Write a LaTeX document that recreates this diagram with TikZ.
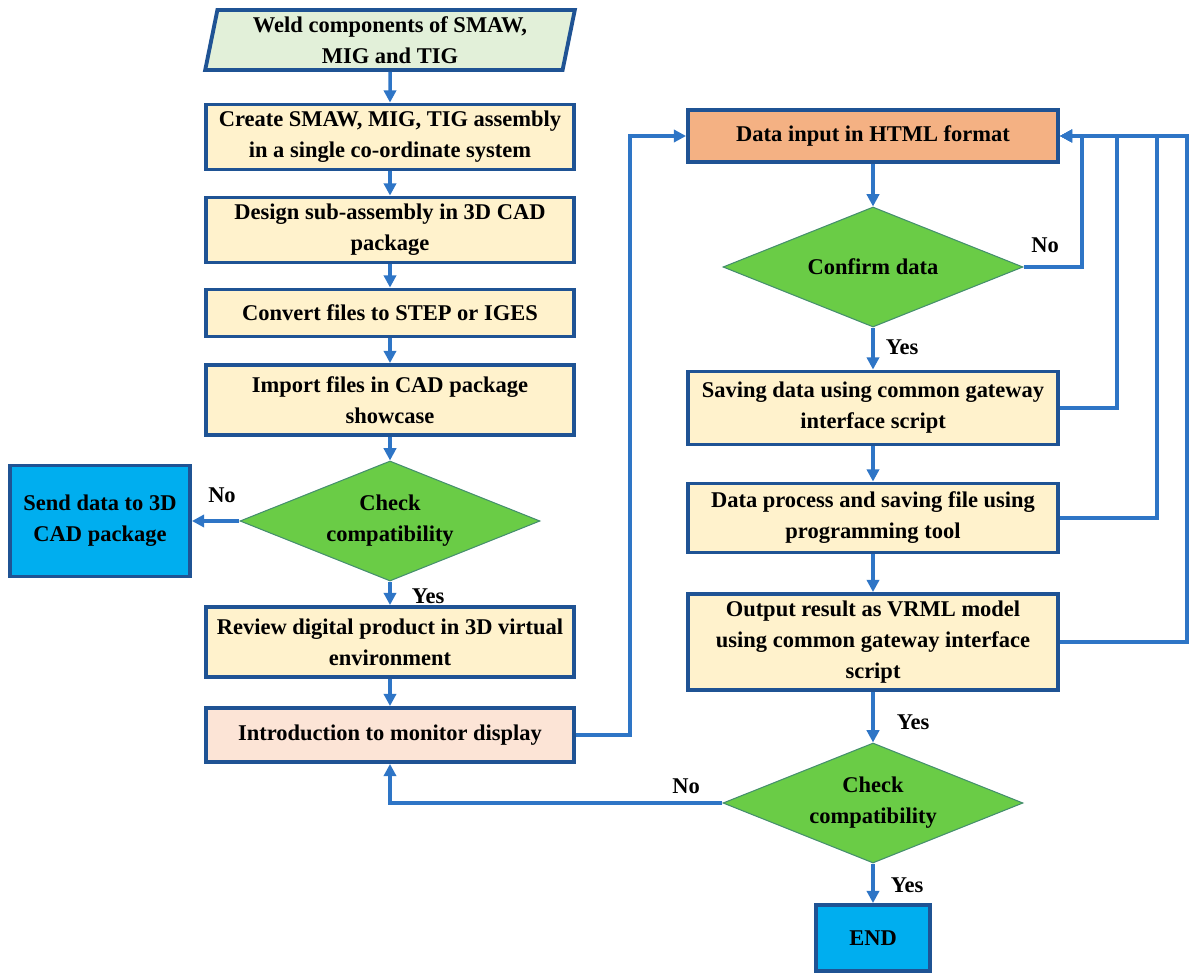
\documentclass[tikz,border=0pt]{standalone}
\usepackage{fontspec}
\setmainfont{Liberation Serif}
\usetikzlibrary{arrows.meta,calc,positioning,shapes.geometric}
\definecolor{FlowBlue}{RGB}{46,117,198}
\definecolor{EdgeBlue}{RGB}{31,83,148}
\definecolor{CreamFill}{RGB}{255,242,204}
\definecolor{MintFill}{RGB}{226,240,217}
\definecolor{LeafGreen}{RGB}{106,204,70}
\definecolor{SkyFill}{RGB}{0,174,239}
\definecolor{PeachFill}{RGB}{244,177,131}
\definecolor{BlushFill}{RGB}{252,228,214}

\begin{document}
\begin{tikzpicture}[font=\bfseries\fontsize{12.8}{17.6}\selectfont,
 stepbox/.style={rectangle,draw=EdgeBlue,line width=2.2pt,fill=CreamFill,align=center,inner sep=2pt,minimum width=7.36cm},
 decide/.style={diamond,draw=EdgeBlue!50!LeafGreen,line width=.6pt,fill=LeafGreen,align=center,aspect=2.5,inner sep=0pt,minimum width=6cm,minimum height=2.4cm},
 flow/.style={FlowBlue,line width=2pt,-{Triangle[length=7pt,width=7pt]}},
 tag/.style={inner sep=0pt}]
\useasboundingbox (0,0) rectangle (23.78,-19.46);
% left column
\node[trapezium,trapezium left angle=79,trapezium right angle=101,trapezium stretches=true,draw=EdgeBlue,line width=2.2pt,fill=MintFill,align=center,minimum width=7.4cm,minimum height=1.2cm,inner sep=1pt] (weld) at (7.8,-.8){Weld components of SMAW,\\ MIG and TIG};
\node[stepbox,minimum height=1.3cm] (create) at (7.8,-2.74){Create SMAW, MIG, TIG assembly\\ in a single co-ordinate system};
\node[stepbox,minimum height=1.3cm] (design) at (7.8,-4.6){Design sub-assembly in 3D CAD\\ package};
\node[stepbox,minimum height=.94cm] (convert) at (7.8,-6.26){Convert files to STEP or IGES};
\node[stepbox,minimum height=1.4cm] (import) at (7.8,-8.0){Import files in CAD package\\ showcase};
\node[decide] (checkA) at (7.8,-10.42){Check\\ compatibility};
\node[stepbox,minimum height=1.4cm] (review) at (7.8,-12.84){Review digital product in 3D virtual\\ environment};
\node[stepbox,fill=BlushFill,minimum height=1.08cm] (monitor) at (7.8,-14.7){Introduction to monitor display};
\node[stepbox,fill=SkyFill,minimum width=3.6cm,minimum height=2.22cm] (send) at (2,-10.42){Send data to 3D\\ CAD package};
% right column
\node[stepbox,fill=PeachFill,minimum width=7.4cm,minimum height=1.04cm] (htmlin) at (17.46,-2.72){Data input in HTML format};
\node[decide] (confirm) at (17.46,-5.34){Confirm data};
\node[stepbox,minimum width=7.4cm,minimum height=1.46cm] (saving) at (17.46,-8.16){Saving data using common gateway\\ interface script};
\node[stepbox,minimum width=7.4cm,minimum height=1.38cm] (process) at (17.46,-10.36){Data process and saving file using\\ programming tool};
\node[stepbox,minimum width=7.4cm,minimum height=1.92cm] (output) at (17.46,-12.84){Output result as VRML model\\ using common gateway interface\\ script};
\node[decide] (checkB) at (17.46,-16.06){Check\\ compatibility};
\node[stepbox,fill=SkyFill,minimum width=2.28cm,minimum height=1.32cm] (finish) at (17.46,-18.76){END};
% connectors
\foreach \a/\b in {weld/create,create/design,design/convert,convert/import,import/checkA,checkA/review,review/monitor,htmlin/confirm,confirm/saving,saving/process,process/output,output/checkB,checkB/finish}{\draw[flow] (\a) -- (\b);}
\draw[flow] (checkA.west) -- (send.east);
\coordinate (bendL) at (12.6,-14.7);
\draw[flow] (monitor.east) -- (bendL) |- (htmlin.west);
\foreach \src/\dx in {confirm/.44,saving/1.14,process/1.94,output/2.54}{\draw[flow] (\src.east) -| ([xshift=\dx cm]htmlin.east) -- (htmlin.east);}
\draw[flow] (checkB.west) -| (monitor.south);
% labels
\node[tag] (noA) at (4.44,-9.9){No};
\node[tag] (yesA) at (8.56,-11.92){Yes};
\node[tag] (noB) at (20.9,-4.9){No};
\node[tag] (yesB) at (18.04,-6.94){Yes};
\node[tag] (yesC) at (18.26,-14.44){Yes};
\node[tag] (noC) at (13.72,-15.72){No};
\node[tag] (yesD) at (18.14,-17.7){Yes};
\end{tikzpicture}
\end{document}
